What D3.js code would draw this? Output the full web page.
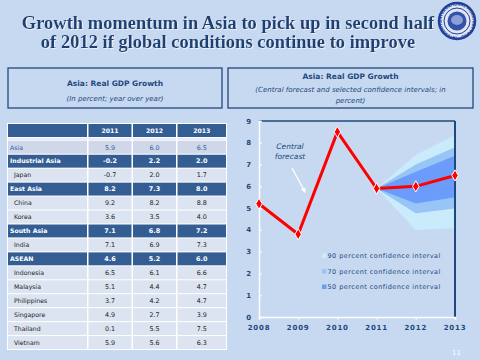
<!DOCTYPE html>
<html>
<head>
<meta charset="utf-8">
<script src="https://cdn.jsdelivr.net/npm/d3@7"></script>
<style>
  body { margin: 0; background: #c6d9f0; }
  svg { display: block; }
</style>
</head>
<body>
<div id="chart"></div>
<script>
// Table data
const rowNames = ["Asia", "Industrial Asia", "Japan", "East Asia", "China", "Korea", "South Asia", "India",
                  "ASEAN", "Indonesia", "Malaysia", "Philippines", "Singapore", "Thailand", "Vietnam"];
const rowKinds = ["total", "group", "country", "group", "country", "country", "group", "country",
                  "group", "country", "country", "country", "country", "country", "country"];
const tableYears = ["2011", "2012", "2013"];
const gdp2011 = [5.9, -0.2, -0.7, 8.2, 9.2, 3.6, 7.1, 7.1, 4.6, 6.5, 5.1, 3.7, 4.9, 0.1, 5.9];
const gdp2012 = [6.0, 2.2, 2.0, 7.3, 8.2, 3.5, 6.8, 6.9, 5.2, 6.1, 4.4, 4.2, 2.7, 5.5, 5.6];
const gdp2013 = [6.5, 2.0, 1.7, 8.0, 8.8, 4.0, 7.2, 7.3, 6.0, 6.6, 4.7, 4.7, 3.9, 7.5, 6.3];

// Chart data
const years = [2008, 2009, 2010, 2011, 2012, 2013];
const asiaGrowth = [5.2, 3.8, 8.5, 5.9, 6.0, 6.5];
const fanYears = [2011, 2012, 2013];
const upper90 = [5.9, 7.45, 8.35], lower90 = [5.9, 4.0, 4.07];
const upper70 = [5.9, 7.0, 7.8],   lower70 = [5.9, 4.76, 4.98];
const upper50 = [5.9, 6.67, 7.4],  lower50 = [5.9, 5.21, 5.5];
const bandLabels = ["90 percent confidence interval", "70 percent confidence interval", "50 percent confidence interval"];
const bandColors = ["#c9ebfb", "#97c6f6", "#6b9cfb"];
const yTicks = [0, 1, 2, 3, 4, 5, 6, 7, 8, 9];

const navy = "#1f497d";

const svg = d3.select("#chart")
  .append("svg")
    .attr("width", 480)
    .attr("height", 360);

svg.append("rect").attr("width", 480).attr("height", 360).attr("fill", "#c6d9f0");

const defs = svg.append("defs");
defs.append("filter").attr("id", "shadow").attr("x", "-5%").attr("y", "-20%").attr("width", "110%").attr("height", "140%")
  .append("feDropShadow")
  .attr("dx", 1).attr("dy", 1).attr("stdDeviation", 0.6)
  .attr("flood-color", "#f2f6fc").attr("flood-opacity", 0.8);

// Title
const titleLines = ["Growth momentum in Asia to pick up in second half", "of 2012 if global conditions continue to improve"];
svg.selectAll(".title")
  .data(titleLines)
  .enter()
  .append("text")
  .attr("x", 228)
  .attr("y", (d, i) => 29 + i * 19)
  .attr("text-anchor", "middle")
  .attr("filter", "url(#shadow)")
  .style("font-family", "Liberation Serif, serif")
  .style("font-weight", "bold")
  .style("font-size", "18.5px")
  .style("fill", "#1f3f72")
  .text(d => d);

// Seal in the corner
const seal = svg.append("g").attr("transform", "translate(457,21)");
seal.append("circle").attr("r", 18).attr("fill", "#dfe6f4").attr("stroke", "#23409a").attr("stroke-width", 2.5);
seal.append("circle").attr("r", 13).attr("fill", "none").attr("stroke", "#23409a").attr("stroke-width", 1);
seal.append("circle").attr("r", 9.5).attr("fill", "#3552a8");
seal.append("ellipse").attr("cx", 0).attr("cy", -1).attr("rx", 6).attr("ry", 5).attr("fill", "#8aa0d6");
seal.append("path").attr("id", "sealPath").attr("d", "M-15.5,0 A15.5,15.5 0 1,1 15.5,0 A15.5,15.5 0 1,1 -15.5,0").attr("fill", "none");
seal.append("text")
  .style("font-family", "DejaVu Sans, sans-serif").style("font-size", "3.6px").style("font-weight", "bold")
  .style("fill", "#23409a")
  .append("textPath").attr("href", "#sealPath")
  .text("INTERNATIONAL MONETARY FUND · INTERNATIONAL");

// Sub-title boxes
const boxes = [
  {x: 8, w: 214, lines: ["Asia: Real GDP Growth", "(In percent; year over year)"], ys: [86, 101]},
  {x: 228, w: 245, lines: ["Asia: Real GDP Growth", "(Central forecast and selected confidence intervals; in", "percent)"], ys: [79, 92, 103]}
];
boxes.forEach(b => {
  svg.append("rect")
    .attr("x", b.x).attr("y", 68).attr("width", b.w).attr("height", 40)
    .attr("fill", "none").attr("stroke", navy).attr("stroke-width", 1.3);
  b.lines.forEach((t, i) => {
    svg.append("text")
      .attr("x", b.x + b.w / 2).attr("y", b.ys[i])
      .attr("text-anchor", "middle")
      .style("font-family", "DejaVu Sans, sans-serif")
      .style("font-size", i === 0 ? "7.5px" : "7px")
      .style("font-weight", i === 0 ? "bold" : "normal")
      .style("font-style", i === 0 ? "normal" : "italic")
      .style("fill", navy)
      .text(t);
  });
});

// ---------- Table ----------
const fmt = d3.formatLocale({decimal: ".", thousands: ",", grouping: [3], currency: ["", ""], minus: "-"}).format(".1f");
const colX = [8, 88.5, 133, 177.5];
const colW = [79, 43, 43, 48.5];
const darkCell = "#345e93", lightCell = "#dbe4f0";

const table = svg.append("g");
table.append("rect").attr("x", 7).attr("y", 123).attr("width", 220).attr("height", 227).attr("fill", "#ffffff");

// header row
colX.forEach((x, c) => {
  table.append("rect").attr("x", x).attr("y", 124).attr("width", colW[c]).attr("height", 13).attr("fill", darkCell);
  table.append("rect").attr("x", x).attr("y", 137.8).attr("width", colW[c]).attr("height", 2.4).attr("fill", "#e6edf6");
});
table.selectAll(".yr")
  .data(tableYears)
  .enter()
  .append("text")
  .attr("x", (d, i) => colX[i + 1] + colW[i + 1] / 2)
  .attr("y", 132.8)
  .attr("text-anchor", "middle")
  .style("font-family", "DejaVu Sans, sans-serif").style("font-size", "6.2px").style("font-weight", "bold")
  .style("fill", "#ffffff")
  .text(d => d);

const rowY = d3.scaleBand().domain(rowNames).range([140.8, 349]).paddingInner(0.075);
const rows = rowNames.map((n, i) => ({name: n, kind: rowKinds[i], vals: [gdp2011[i], gdp2012[i], gdp2013[i]]}));

const rowG = table.selectAll(".row")
  .data(rows)
  .enter()
  .append("g")
  .attr("transform", d => `translate(0,${rowY(d.name)})`);

colX.forEach((x, c) => {
  rowG.append("rect")
    .attr("x", x).attr("width", colW[c]).attr("height", rowY.bandwidth())
    .attr("fill", d => d.kind === "group" ? darkCell : d.kind === "total" ? "#cfd7e8" : lightCell);
});

const textFill = d => d.kind === "group" ? "#ffffff" : d.kind === "total" ? "#2c5fa8" : "#222222";
rowG.append("text")
  .attr("x", d => d.kind === "country" ? 14 : 10)
  .attr("y", rowY.bandwidth() / 2 + 2.3)
  .style("font-family", "DejaVu Sans, sans-serif").style("font-size", "6.2px")
  .style("font-weight", d => d.kind === "group" ? "bold" : "normal")
  .style("fill", textFill)
  .text(d => d.name);
[0, 1, 2].forEach(c => {
  rowG.append("text")
    .attr("x", colX[c + 1] + colW[c + 1] / 2)
    .attr("y", rowY.bandwidth() / 2 + 2.3)
    .attr("text-anchor", "middle")
    .style("font-family", "DejaVu Sans, sans-serif").style("font-size", "6.4px")
    .style("font-weight", d => d.kind === "group" ? "bold" : "normal")
    .style("fill", textFill)
    .text(d => fmt(d.vals[c]));
});

// ---------- Fan chart ----------
const x = d3.scaleLinear().domain([2008, 2013]).range([259, 455]);
const y = d3.scaleLinear().domain([0, 9]).range([317, 121]);

const bands = [[upper90, lower90], [upper70, lower70], [upper50, lower50]];
const area = d3.area()
  .x(d => x(d.year))
  .y0(d => y(d.lo))
  .y1(d => y(d.hi));
bands.forEach(([hi, lo], b) => {
  svg.append("path")
    .datum(fanYears.map((yr, i) => ({year: yr, hi: hi[i], lo: lo[i]})))
    .attr("d", area)
    .attr("fill", bandColors[b]);
});

// frame: white left/bottom axes, navy top/right
svg.append("line").attr("x1", x(2008)).attr("x2", x(2013)).attr("y1", y(9)).attr("y2", y(9))
  .attr("stroke", navy).attr("stroke-width", 1.5);
svg.append("line").attr("x1", x(2013)).attr("x2", x(2013)).attr("y1", y(9)).attr("y2", y(0))
  .attr("stroke", navy).attr("stroke-width", 2);

const yAxis = svg.append("g")
  .attr("transform", `translate(${x(2008)},0)`)
  .call(d3.axisRight(y).tickValues(yTicks).tickSize(2.5).tickFormat(""));
yAxis.selectAll("line, path").attr("stroke", "#ffffff").attr("stroke-width", 1.5);
svg.selectAll(".ylab")
  .data(yTicks)
  .enter()
  .append("text")
  .attr("x", 251)
  .attr("y", d => y(d) + 2.5)
  .attr("text-anchor", "end")
  .style("font-family", "DejaVu Sans, sans-serif").style("font-size", "7px").style("font-weight", "bold")
  .style("fill", navy)
  .text(d => d);

const xAxis = svg.append("g")
  .attr("transform", `translate(0,${y(0)})`)
  .call(d3.axisBottom(x).tickValues(years).tickSize(2.5).tickFormat(""));
xAxis.selectAll("line, path").attr("stroke", "#ffffff").attr("stroke-width", 1.5);
svg.selectAll(".xlab")
  .data(years)
  .enter()
  .append("text")
  .attr("x", d => x(d))
  .attr("y", 330)
  .attr("text-anchor", "middle")
  .style("font-family", "DejaVu Sans, sans-serif").style("font-size", "7px").style("font-weight", "bold")
  .style("letter-spacing", "0.8px")
  .style("fill", navy)
  .text(d => d);

// central forecast line
const line = d3.line().x(d => x(d.year)).y(d => y(d.v));
const pts = years.map((yr, i) => ({year: yr, v: asiaGrowth[i]}));
svg.append("path")
  .datum(pts)
  .attr("d", line)
  .attr("fill", "none")
  .attr("stroke", "#ff0000")
  .attr("stroke-width", 3)
  .attr("stroke-linejoin", "round");
svg.selectAll(".pt")
  .data(pts)
  .enter()
  .append("path")
  .attr("transform", d => `translate(${x(d.year)},${y(d.v)})`)
  .attr("d", d3.symbol(d3.symbolDiamond, 36))
  .attr("fill", "#ff0000")
  .attr("stroke", "#ffffff")
  .attr("stroke-width", 1);

// annotation
svg.append("text")
  .attr("x", 290).attr("y", 149)
  .attr("text-anchor", "middle")
  .style("font-family", "DejaVu Sans, sans-serif").style("font-size", "7.5px").style("font-style", "italic")
  .style("fill", navy)
  .selectAll("tspan")
  .data(["Central", "forecast"])
  .enter()
  .append("tspan")
  .attr("x", 290)
  .attr("dy", (d, i) => i ? 9.5 : 0)
  .text(d => d);

defs.append("marker")
  .attr("id", "arr").attr("viewBox", "0 0 10 10").attr("refX", 8).attr("refY", 5)
  .attr("markerWidth", 4).attr("markerHeight", 4).attr("orient", "auto")
  .append("path").attr("d", "M0,0 L10,5 L0,10 z").attr("fill", "#ffffff");
svg.append("line")
  .attr("x1", 292).attr("y1", 168).attr("x2", 305).attr("y2", 192)
  .attr("stroke", "#ffffff").attr("stroke-width", 1.3)
  .attr("marker-end", "url(#arr)");

// legend
const legend = svg.selectAll(".leg")
  .data(bandLabels)
  .enter()
  .append("g")
  .attr("transform", (d, i) => `translate(322,${256 + i * 15.5})`);
legend.append("rect")
  .attr("x", 0).attr("y", -2.5).attr("width", 4.5).attr("height", 4.5)
  .attr("fill", (d, i) => bandColors[i]);
legend.append("text")
  .attr("x", 5.5).attr("y", 2.3)
  .style("font-family", "DejaVu Sans, sans-serif").style("font-size", "6.5px")
  .style("letter-spacing", "0.45px")
  .style("fill", navy)
  .text(d => d);

// page number
svg.append("text")
  .attr("x", 452).attr("y", 355)
  .style("font-family", "DejaVu Sans, sans-serif").style("font-size", "7px")
  .style("fill", "#ffffff")
  .text("11");
</script>
</body>
</html>
